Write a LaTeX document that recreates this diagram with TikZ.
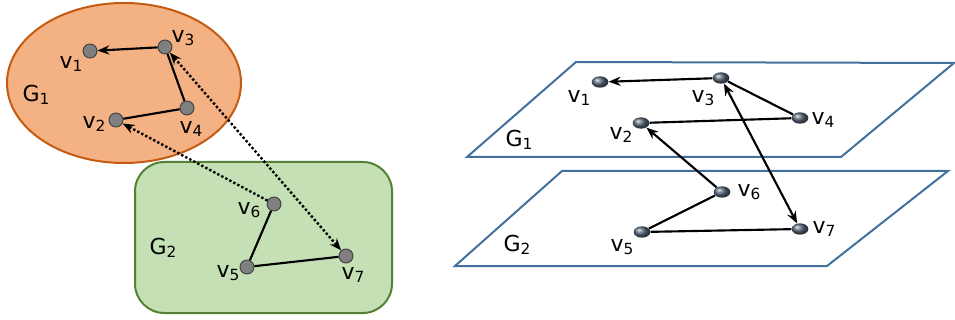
\documentclass[tikz,border=0pt]{standalone}
\usepackage{fontspec}
\setmainfont{DejaVu Sans}
\usetikzlibrary{arrows.meta,shapes.geometric}

\definecolor{orangefill}{HTML}{F4B183}
\definecolor{orangeline}{HTML}{C55A11}
\definecolor{greenfill}{HTML}{C5E0B4}
\definecolor{greenline}{HTML}{548235}
\definecolor{planeline}{HTML}{41719C}
\definecolor{nodegray}{HTML}{7F7F7F}
\definecolor{ballgray}{HTML}{56687A}

% vertex label with a lowered, smaller index
\newcommand{\vlab}[2]{#1\raisebox{-2.5pt}{\fontsize{11.5}{13}\selectfont #2}}

\begin{document}
\begin{tikzpicture}[x=0.75pt,y=-0.75pt,
  lbl/.style={inner sep=0pt,font=\fontsize{16.5}{19}\selectfont},
  lnode/.style={circle,draw=black!75,line width=0.7pt,fill=nodegray,minimum size=10.5pt,inner sep=0pt},
  rnode/.style={ellipse,ball color=ballgray,minimum width=12.5pt,minimum height=8.5pt,inner sep=0pt},
  tip/.style={},
  edge/.style={line width=1.6pt,black},
  arr/.style={edge,-{Stealth[length=9pt,width=7pt,inset=3pt]}},
  darr/.style={edge,{Stealth[length=9pt,width=7pt,inset=3pt]}-{Stealth[length=9pt,width=7pt,inset=3pt]}},
  dots/.style={line width=1.8pt,black,dash pattern=on 1.8pt off 1.6pt},
  plane/.style={draw=planeline,line width=1.5pt,line join=miter}
]
\useasboundingbox (0,0) rectangle (955,320);

% ---------- left: two groups ----------
\filldraw[fill=orangefill,draw=orangeline,line width=1.5pt] (124,83) ellipse [x radius=117,y radius=80];
\filldraw[fill=greenfill,draw=greenline,line width=1.5pt,rounded corners=22pt] (135,162) rectangle (392,313);

\node[lnode] (a1) at (90,51) {};
\node[lnode] (a3) at (165,47) {};
\node[lnode] (a4) at (187,108) {};
\node[lnode] (a2) at (116,120) {};
\node[lnode] (a6) at (274,204) {};
\node[lnode] (a5) at (247,267) {};
\node[lnode] (a7) at (346,256) {};

\draw[arr] (a3) -- (a1);
\draw[edge] (a3) -- (a4);
\draw[edge] (a4) -- (a2);
\draw[edge] (a6) -- (a5);
\draw[edge] (a5) -- (a7);
\draw[dots,-{Stealth[length=9pt,width=7pt,inset=3pt]}] (a6) -- (a2);
\draw[dots,{Stealth[length=9pt,width=7pt,inset=3pt]}-{Stealth[length=9pt,width=7pt,inset=3pt]}] (a3) -- (a7);

\node[lbl] (la1) at (71,64) {\vlab{v}{1}};
\node[lbl] (la3) at (183,38) {\vlab{v}{3}};
\node[lbl] (la2) at (94,124) {\vlab{v}{2}};
\node[lbl] (la4) at (191,129) {\vlab{v}{4}};
\node[lbl] (lg1) at (36,95) {\vlab{G}{1}};
\node[lbl] (la6) at (249,210) {\vlab{v}{6}};
\node[lbl] (la5) at (228,273) {\vlab{v}{5}};
\node[lbl] (la7) at (353,275) {\vlab{v}{7}};
\node[lbl] (lg2) at (163,248) {\vlab{G}{2}};

% ---------- right: two layers ----------
\draw[plane] (467,157) -- (576,62) -- (954,63) -- (841,157) -- cycle;
\draw[plane] (455,266) -- (562,171) -- (948,171) -- (827,266) -- cycle;

\node[rnode] (b1) at (600,82) {};
\node[rnode] (b3) at (721,78) {};
\node[rnode] (b4) at (800,118) {};
\node[rnode] (b2) at (641,123) {};
\node[rnode] (b6) at (722,192) {};
\node[rnode] (b5) at (642,232) {};
\node[rnode] (b7) at (800,229) {};

\draw[arr] (b3) -- (b1);
\draw[edge] (b3) -- (b4);
\draw[edge] (b4) -- (b2);
\draw[edge] (b6) -- (b5);
\draw[edge] (b5) -- (b7);
\draw[arr] (b6) -- (b2);
\draw[darr] (b3) -- (b7);

\node[lbl] (lb1) at (579,98) {\vlab{v}{1}};
\node[lbl] (lb3) at (703,98) {\vlab{v}{3}};
\node[lbl] (lb4) at (823,120) {\vlab{v}{4}};
\node[lbl] (lb2) at (621,135) {\vlab{v}{2}};
\node[lbl] (lh1) at (519,140) {\vlab{G}{1}};
\node[lbl] (lb6) at (749,192) {\vlab{v}{6}};
\node[lbl] (lb7) at (824,229) {\vlab{v}{7}};
\node[lbl] (lb5) at (622,247) {\vlab{v}{5}};
\node[lbl] (lh2) at (517,245) {\vlab{G}{2}};
\end{tikzpicture}
\end{document}
